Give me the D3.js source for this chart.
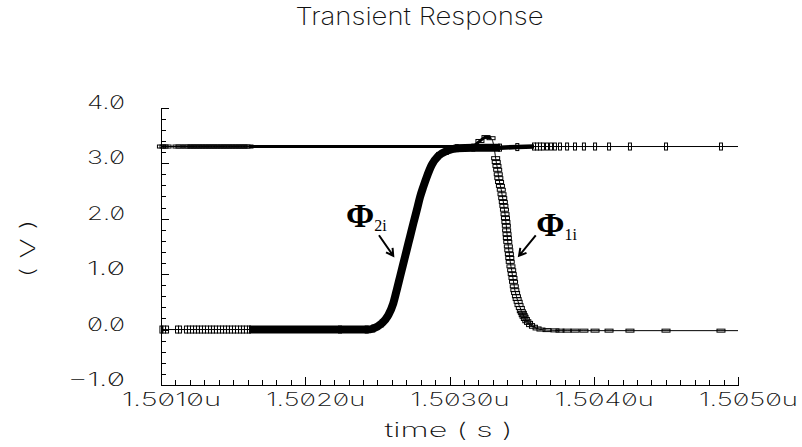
<!DOCTYPE html>
<html><head><meta charset="utf-8">
<script src="https://cdn.jsdelivr.net/npm/d3@7"></script>
<style>
html,body{margin:0;padding:0;background:#fff;}
svg{display:block;}
.lbl{font-family:Inter,"DejaVu Sans",sans-serif;font-weight:200;font-feature-settings:"zero" 1;fill:#111;}
.greek{font-family:"Liberation Serif","Times New Roman",serif;fill:#000;}
</style></head><body>
<svg id="c" width="802" height="447"></svg>
<script>
// ---------- texts & ticks ----------
const titleText = "Transient Response";
const xAxisTitle = "time ( s )";
const yAxisTitle = "( V )";
const xTickValues = [1501, 1502, 1503, 1504, 1505];           // ns
const xTickLabels = ["1.5010u", "1.5020u", "1.5030u", "1.5040u", "1.5050u"];
const yTickValues = [-1, 0, 1, 2, 3, 4];
const yTickLabels = ["\u22121.0", "0.0", "1.0", "2.0", "3.0", "4.0"];

// ---------- Φ2i trace (time ns, volts) ----------
const phi2Time = [1501.003,1501.021,1501.042,1501.111,1501.132,1501.173,1501.194,1501.215,1501.236,1501.256,
  1501.277,1501.298,1501.319,1501.340,1501.360,1501.381,1501.402,1501.423,1501.444,1501.464,1501.485,1501.506,
  1501.527,1501.548,1501.568,1501.589,1501.610,
  1502.241,1502.426,1502.472,1502.530,1502.576,1502.610,1502.634,1502.657,1502.680,1502.703,1502.726,1502.749,
  1502.773,1502.796,1502.818,1502.842,1502.877,1502.922,1502.981,1503.050,1503.165,1503.350,1503.470,
  1503.586,1503.607,1503.627,1503.648,1503.676,1503.704,1503.731,1503.766,1503.815,1503.870,1503.932,1504.009,
  1504.106,1504.251,1504.501,1504.882,1505.000];
const phi2Volt = [0,0,0,0,0,0,0,0,0,0,
  0,0,0,0,0,0,0,0,0,0,0,0,
  0,0,0,0,0,
  0.00,0.00,0.02,0.11,0.26,0.47,0.71,0.95,1.19,1.43,1.67,1.91,
  2.15,2.39,2.57,2.75,2.97,3.13,3.22,3.27,3.28,3.28,3.29,
  3.30,3.30,3.30,3.30,3.30,3.30,3.30,3.30,3.30,3.30,3.30,3.30,
  3.30,3.30,3.30,3.30,3.30];

// ---------- Φ1i trace (time ns, volts) ----------
const phi1Time = [1501.003,1501.021,1501.042,1501.111,1501.132,1501.173,1501.194,1501.215,1501.236,1501.256,
  1501.277,1501.298,1501.319,1501.340,1501.360,1501.381,1501.402,1501.423,1501.444,1501.464,1501.485,1501.506,
  1501.527,1501.548,1501.568,1501.589,1501.610,
  1503.156,1503.211,1503.253,1503.288,1503.308,
  1503.320,1503.324,1503.329,1503.334,1503.338,1503.342,1503.347,1503.353,1503.359,1503.364,
  1503.369,1503.373,1503.377,1503.381,1503.385,1503.388,1503.391,1503.394,1503.396,1503.399,
  1503.401,1503.404,1503.408,1503.411,1503.415,1503.418,1503.421,1503.426,1503.431,1503.435,
  1503.440,1503.444,1503.449,1503.453,1503.458,1503.464,1503.469,1503.476,1503.482,1503.491,
  1503.498,1503.505,1503.511,1503.517,1503.526,1503.536,1503.548,1503.562,1503.582,1503.607,
  1503.634,1503.676,1503.731,1503.766,
  1503.815,1503.870,1503.932,1504.009,1504.106,1504.251,1504.501,1504.882,1505.000];
const phi1Volt = [3.3,3.3,3.3,3.3,3.3,3.3,3.3,3.3,3.3,3.3,
  3.3,3.3,3.3,3.3,3.3,3.3,3.3,3.3,3.3,3.3,3.3,3.3,
  3.3,3.3,3.3,3.3,3.3,
  3.30,3.40,3.47,3.45,3.30,
  3.09,3.02,2.95,2.88,2.80,2.73,2.66,2.59,2.52,2.44,
  2.37,2.30,2.23,2.16,2.08,2.01,1.94,1.87,1.79,1.72,
  1.65,1.58,1.50,1.43,1.36,1.29,1.22,1.14,1.07,1.00,
  0.93,0.86,0.78,0.71,0.66,0.60,0.55,0.50,0.44,0.39,
  0.33,0.30,0.26,0.23,0.19,0.15,0.12,0.08,0.05,0.02,
  0.00,-0.01,-0.015,-0.02,
  -0.02,-0.02,-0.02,-0.02,-0.02,-0.02,-0.02,-0.02,-0.02];

// time spans where the simulator's points are so dense the markers merge into a solid band
const phi2DenseSpans = [[1501.61, 1503.35], [1503.35, 1503.59]];
const phi1DenseSpans = [[1501.61, 1503.30]];

// annotations: label, subscript, text anchor (t,v), arrow tail (t,v), arrow tip (t,v)
const annoName = ["\u03A6", "\u03A6"];
const annoSub = ["2i", "1i"];
const annoText = [[1502.283, 1.85], [1503.602, 1.69]];
const annoTail = [[1502.511, 1.70], [1503.598, 1.70]];
const annoTip = [[1502.610, 1.33], [1503.482, 1.33]];

// ---------- drawing ----------
const svg = d3.select("#c");
const x = d3.scaleLinear().domain([1501, 1505]).range([161, 738]);
const y = d3.scaleLinear().domain([-1, 4]).range([385, 107.7]);

const toPts = (T, V) => T.map((t, i) => ({t, v: V[i]}));
const phi1 = toPts(phi1Time, phi1Volt);
const phi2 = toPts(phi2Time, phi2Volt);

const line = d3.line().x(d => x(d.t)).y(d => y(d.v)).curve(d3.curveMonotoneX);

// thin traces
[phi1, phi2].forEach(p => {
  svg.append("path").datum(p).attr("d", line)
    .attr("fill", "none").attr("stroke", "#000").attr("stroke-width", 1);
});

// dense bands
const bandW2 = [8, 4.5], bandW1 = [3];
function band(pts, spans, widths) {
  spans.forEach((s, i) => {
    const sub = pts.filter(d => d.t >= s[0] - 1e-9 && d.t <= s[1] + 1e-9);
    svg.append("path").datum(sub).attr("d", line)
      .attr("fill", "none").attr("stroke", "#000").attr("stroke-width", widths[i])
      .attr("stroke-linejoin", "round");
  });
}
band(phi2, phi2DenseSpans, bandW2);
band(phi1, phi1DenseSpans, bandW1);

// markers (last point is the end of the trace window, no marker)
function markers(pts, w, h) {
  svg.append("g").selectAll("rect").data(pts.slice(0, -1)).join("rect")
    .attr("x", d => x(d.t) - w / 2).attr("y", d => y(d.v) - h / 2)
    .attr("width", w).attr("height", h)
    .attr("fill", "none").attr("stroke", "#000").attr("stroke-width", 1);
}
markers(phi2, 3, 7);
markers(phi1, 8, 3);

// axes
const axColor = "#000";
const gxMinor = svg.append("g").attr("transform", `translate(0,${y(-1)})`)
  .call(d3.axisBottom(x).tickValues(x.ticks(40)).tickSizeInner(-5).tickSizeOuter(0).tickFormat(""));
gxMinor.select(".domain").remove();
const gx = svg.append("g").attr("transform", `translate(0,${y(-1)})`)
  .call(d3.axisBottom(x).tickValues(xTickValues).tickSizeInner(-8).tickSizeOuter(0)
    .tickFormat((d, i) => xTickLabels[i]));
const gyMinor = svg.append("g").attr("transform", `translate(${x(1501)},0)`)
  .call(d3.axisLeft(y).tickValues(y.ticks(25)).tickSizeInner(-5).tickSizeOuter(0).tickFormat(""));
gyMinor.select(".domain").remove();
const gy = svg.append("g").attr("transform", `translate(${x(1501)},0)`)
  .call(d3.axisLeft(y).tickValues(yTickValues).tickSizeInner(-8).tickSizeOuter(0)
    .tickFormat((d, i) => yTickLabels[i]));
svg.selectAll(".domain, .tick line").attr("stroke", axColor).attr("stroke-width", 1)
  .attr("shape-rendering", "crispEdges");
[gx, gy].forEach(g => g.attr("font-family", null).attr("font-size", null));

gx.selectAll("text").attr("class", "lbl").style("font-size", "18px")
  .attr("y", 20.5).attr("dy", null).attr("dx", 10).attr("fill", null)
  .attr("textLength", 99).attr("lengthAdjust", "spacingAndGlyphs");
gy.selectAll("text").attr("class", "lbl").style("font-size", "18.5px")
  .attr("x", -36).attr("dy", null).attr("y", 0.5).attr("fill", null)
  .attr("textLength", (d, i) => yTickLabels[i].length > 3 ? 57 : 38).attr("lengthAdjust", "spacingAndGlyphs");

// titles
svg.append("text").attr("class", "lbl").attr("x", 419.5).attr("y", 25)
  .attr("text-anchor", "middle").style("font-size", "24px")
  .attr("textLength", 248).attr("lengthAdjust", "spacingAndGlyphs").text(titleText);
svg.append("text").attr("class", "lbl").attr("x", (x(1501) + x(1505)) / 2 - 1).attr("y", 437)
  .attr("text-anchor", "middle").style("font-size", "20px")
  .attr("textLength", 128).attr("lengthAdjust", "spacingAndGlyphs").text(xAxisTitle);
svg.append("text").attr("class", "lbl")
  .attr("transform", `translate(35,248.5) rotate(-90)`)
  .attr("text-anchor", "middle").style("font-size", "20px")
  .attr("textLength", 58).attr("lengthAdjust", "spacingAndGlyphs").text(yAxisTitle);

// annotations
annoName.forEach((nm, i) => {
  const t = svg.append("text").attr("class", "greek")
    .attr("x", x(annoText[i][0])).attr("y", y(annoText[i][1]));
  t.append("tspan").attr("font-weight", "bold").attr("font-size", 34).text(nm);
  t.append("tspan").attr("font-size", 16).attr("dy", 4).text(annoSub[i]);
  const x0 = x(annoTail[i][0]), y0 = y(annoTail[i][1]);
  const x1 = x(annoTip[i][0]), y1 = y(annoTip[i][1]);
  const ang = Math.atan2(y1 - y0, x1 - x0), L = 8, a = Math.PI / 6;
  const p = d3.path();
  p.moveTo(x0, y0); p.lineTo(x1, y1);
  p.moveTo(x1 - L * Math.cos(ang - a), y1 - L * Math.sin(ang - a));
  p.lineTo(x1, y1);
  p.lineTo(x1 - L * Math.cos(ang + a), y1 - L * Math.sin(ang + a));
  svg.append("path").attr("d", p.toString()).attr("fill", "none")
    .attr("stroke", "#000").attr("stroke-width", 2);
});
</script>
</body></html>
